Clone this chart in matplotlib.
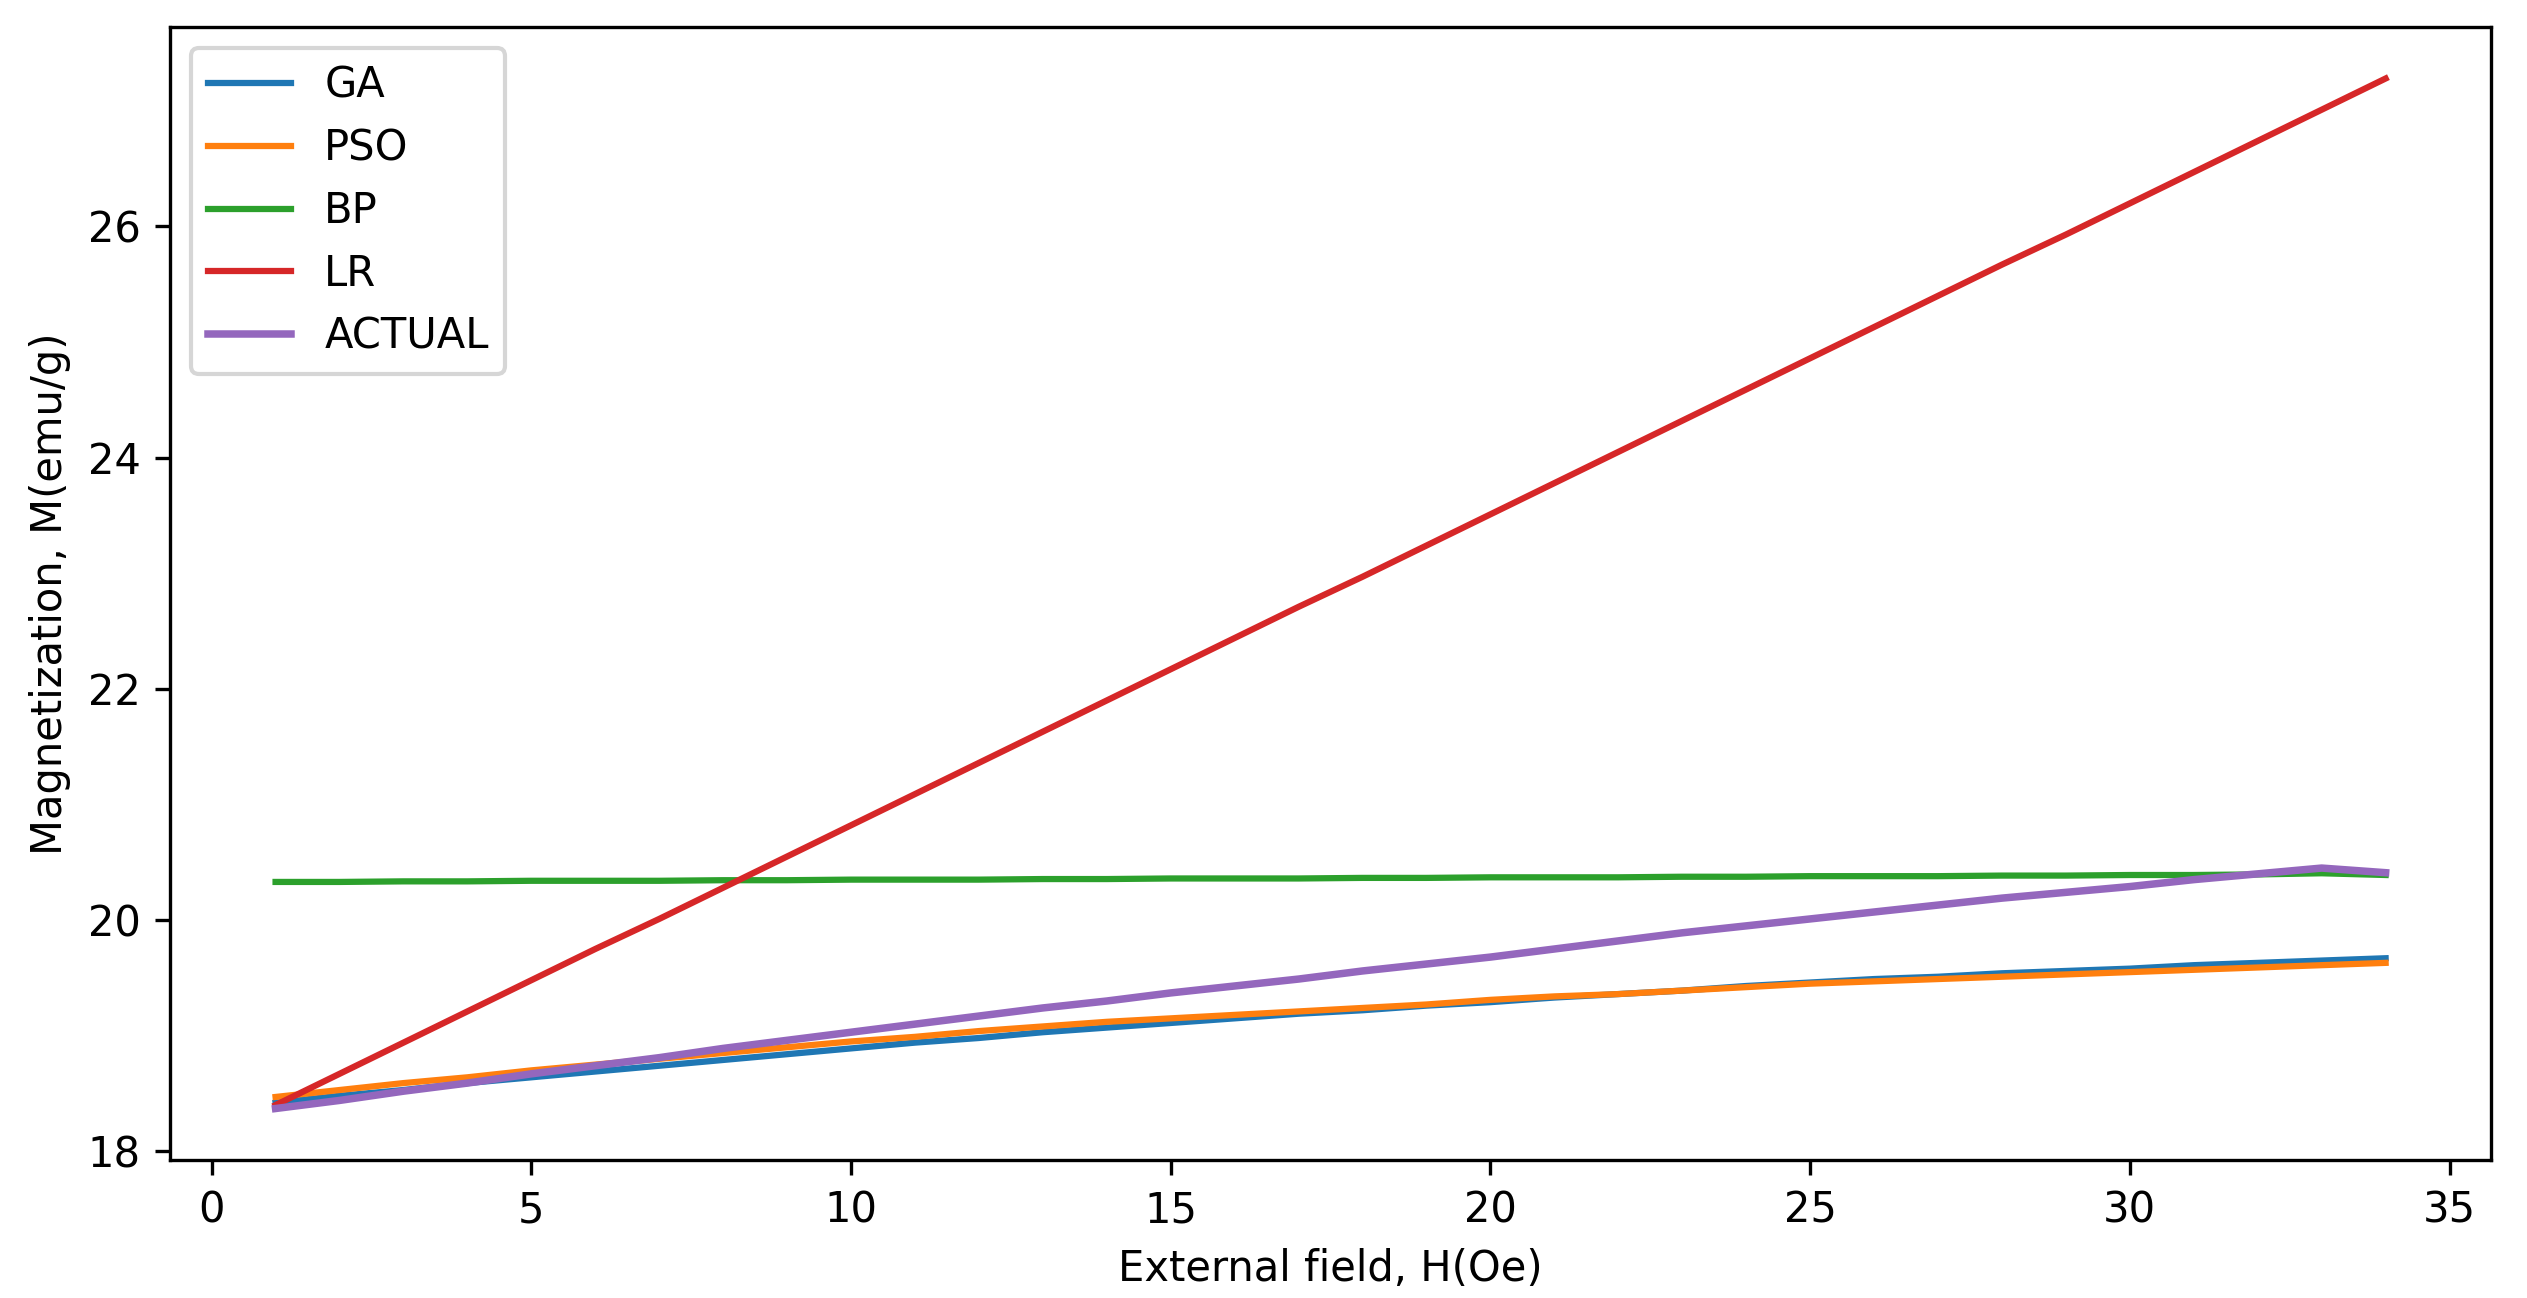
import matplotlib
matplotlib.use("Agg")
import matplotlib.pyplot as plt

field = list(range(1, 35))

ga = [18.42, 18.48, 18.53, 18.59, 18.64, 18.69, 18.74, 18.79, 18.84, 18.89,
      18.94, 18.98, 19.03, 19.07, 19.11, 19.15, 19.19, 19.22, 19.26, 19.29,
      19.33, 19.36, 19.39, 19.43, 19.46, 19.49, 19.51, 19.54, 19.56, 19.58,
      19.61, 19.63, 19.65, 19.67]
pso = [18.47, 18.53, 18.59, 18.64, 18.70, 18.75, 18.80, 18.85, 18.90, 18.95,
       18.99, 19.04, 19.08, 19.12, 19.15, 19.18, 19.21, 19.24, 19.27, 19.31,
       19.34, 19.36, 19.39, 19.42, 19.45, 19.47, 19.49, 19.51, 19.53, 19.55,
       19.57, 19.59, 19.61, 19.63]
bp = [20.33, 20.33, 20.335, 20.335, 20.34, 20.34, 20.34, 20.345, 20.345, 20.35,
      20.35, 20.35, 20.355, 20.355, 20.36, 20.36, 20.36, 20.365, 20.365, 20.37,
      20.37, 20.37, 20.375, 20.375, 20.38, 20.38, 20.38, 20.385, 20.385, 20.39,
      20.39, 20.395, 20.405, 20.39]
lr = [18.40, 18.67, 18.94, 19.21, 19.48, 19.75, 20.01, 20.28, 20.55, 20.82,
      21.09, 21.36, 21.63, 21.90, 22.17, 22.44, 22.71, 22.97, 23.24, 23.51,
      23.78, 24.05, 24.32, 24.59, 24.86, 25.13, 25.40, 25.67, 25.93, 26.20,
      26.47, 26.74, 27.01, 27.28]
actual = [18.37, 18.44, 18.52, 18.59, 18.67, 18.74, 18.81, 18.89, 18.96, 19.03,
          19.10, 19.17, 19.24, 19.30, 19.37, 19.43, 19.49, 19.56, 19.62, 19.68,
          19.75, 19.82, 19.89, 19.95, 20.01, 20.07, 20.13, 20.19, 20.24, 20.29,
          20.35, 20.40, 20.45, 20.41]

fig, ax = plt.subplots(figsize=(2527 / 300, 1298 / 300), dpi=300)
fig.subplots_adjust(left=0.0673, right=0.9858, bottom=0.1063, top=0.9792)

ax.plot(field, ga, label="GA")
ax.plot(field, pso, label="PSO")
ax.plot(field, bp, label="BP")
ax.plot(field, lr, label="LR")
ax.plot(field, actual, label="ACTUAL", lw=1.8)

ax.set_xlabel("External field, H(Oe)")
ax.set_ylabel("Magnetization, M(emu/g)")
ax.legend(loc="upper left")

fig.savefig("out.png", dpi=300)
